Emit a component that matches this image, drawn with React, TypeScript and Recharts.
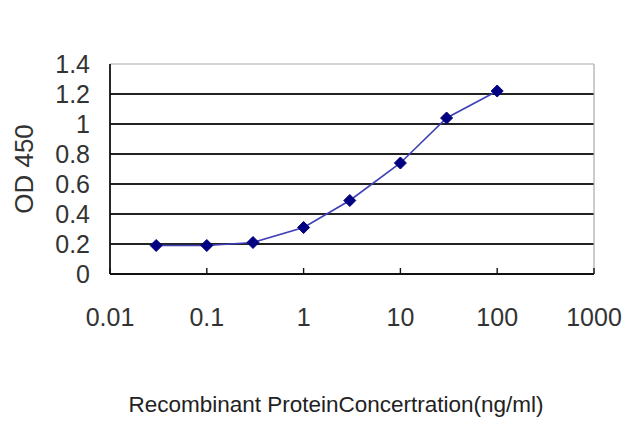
import { CartesianGrid, Label, Line, LineChart, ReferenceLine, XAxis, YAxis } from "recharts";

const concentrations = [0.03, 0.1, 0.3, 1, 3, 10, 30, 100];
const odValues = [0.19, 0.19, 0.21, 0.31, 0.49, 0.74, 1.04, 1.22];
const xTicks = [0.01, 0.1, 1, 10, 100, 1000];
const yTicks = [0, 0.2, 0.4, 0.6, 0.8, 1, 1.2, 1.4];
const gridValues = [0.2, 0.4, 0.6, 0.8, 1, 1.2];

const chartData = concentrations.map((c, i) => ({ conc: c, od: odValues[i] }));

const FONT = "'Liberation Sans', Arial, sans-serif";

// Diamond marker like the spreadsheet default.
function Diamond(props: any) {
  const { cx, cy } = props;
  if (cx == null || cy == null) return null;
  const r = 6;
  return (
    <polygon
      points={`${cx},${cy - r} ${cx + r},${cy} ${cx},${cy + r} ${cx - r},${cy}`}
      fill="#000080"
      stroke="#000080"
    />
  );
}

export default function App() {
  if (typeof document !== "undefined") document.body.style.margin = "0";

  return (
    <div style={{ width: 640, height: 427, background: "#fff", fontFamily: FONT }}>
      <LineChart
        width={640}
        height={427}
        data={chartData}
        margin={{ top: 64, right: 46, left: 0, bottom: 0 }}
      >
        <CartesianGrid
          vertical={false}
          horizontalValues={gridValues}
          stroke="#222"
          strokeWidth={1.8}
        />
        <ReferenceLine y={1.4} stroke="#aaa" strokeWidth={1.2} />
        <ReferenceLine x={1000} stroke="#aaa" strokeWidth={1.2} />
        <XAxis
          dataKey="conc"
          type="number"
          scale="log"
          domain={[0.01, 1000]}
          ticks={xTicks}
          interval={0}
          allowDataOverflow
          height={153}
          axisLine={{ stroke: "#111", strokeWidth: 1.8 }}
          tickLine={{ stroke: "#111", strokeWidth: 1.4 }}
          tickSize={-6}
          tickMargin={40}
          tick={{ fill: "#333", fontSize: 25, fontFamily: FONT }}
          tickFormatter={(v: number) => String(v)}
        >
          <Label
            value="Recombinant ProteinConcertration(ng/ml)"
            position="insideBottom"
            offset={15}
            dx={-16}
            style={{ fill: "#222", fontSize: 22.5, fontFamily: FONT }}
          />
        </XAxis>
        <YAxis
          type="number"
          domain={[0, 1.4]}
          ticks={yTicks}
          interval={0}
          width={110}
          axisLine={{ stroke: "#111", strokeWidth: 1.8 }}
          tickLine={false}
          tickSize={0}
          tickMargin={20}
          tick={{ fill: "#333", fontSize: 25, fontFamily: FONT }}
          tickFormatter={(v: number) => String(Math.round(v * 10) / 10)}
        >
          <Label
            value="OD 450"
            angle={-90}
            position="insideLeft"
            offset={24}
            style={{ fill: "#333", fontSize: 26, fontFamily: FONT, textAnchor: "middle" }}
          />
        </YAxis>
        <Line
          dataKey="od"
          type="linear"
          stroke="#4040b8"
          strokeWidth={1.6}
          dot={<Diamond />}
          activeDot={false}
          isAnimationActive={false}
        />
      </LineChart>
    </div>
  );
}
